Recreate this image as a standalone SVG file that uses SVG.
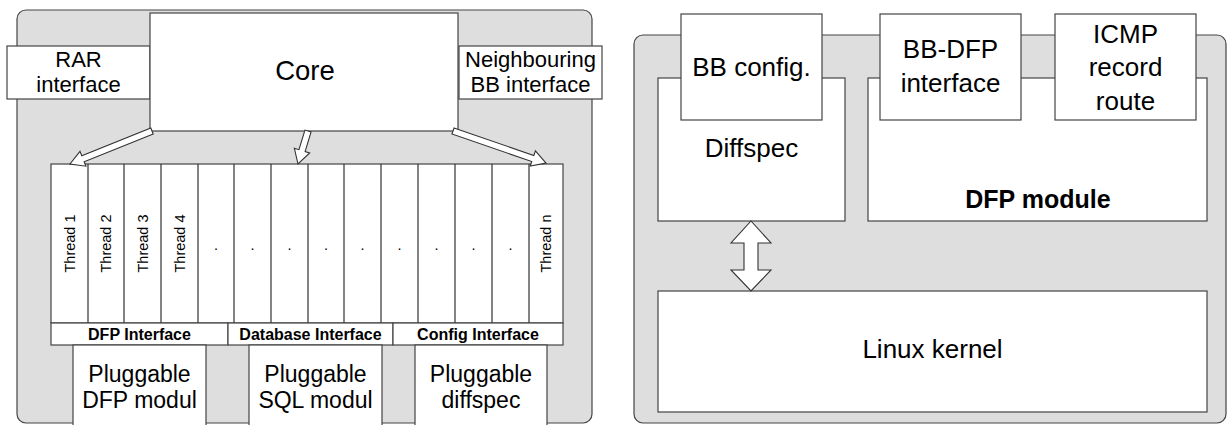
<svg xmlns="http://www.w3.org/2000/svg" width="1231" height="425" viewBox="0 0 1231 425">
<style>
.panel{fill:#dedede;stroke:#444;stroke-width:1.2}
.box{fill:#fff;stroke:#444;stroke-width:1.2}
.col{fill:none;stroke:#333;stroke-width:1.2}
.t{font-family:"Liberation Sans",Arial,sans-serif;fill:#000;text-anchor:middle}
.big{font-size:27.5px}
.mid{font-size:22px}
.plug{font-size:23px}
.rt{font-size:26px}
.th{font-size:14.5px}
.ifc{font-size:16px;font-weight:bold}
.arr{fill:#fff;stroke:#333;stroke-width:1.1;stroke-linejoin:miter}
</style>
<g id="left-panel">
<rect class="panel" x="17" y="10" width="575" height="413" rx="9"/>
</g>
<g id="rar-interface">
<rect class="box" x="7" y="46" width="143" height="53"/>
<text class="t mid" x="78.5" y="67">RAR</text>
<text class="t mid" x="78.5" y="92">interface</text>
</g>
<g id="neighbouring-bb-interface">
<rect class="box" x="459" y="46" width="143" height="53"/>
<text class="t mid" x="530.5" y="67">Neighbouring</text>
<text class="t mid" x="530.5" y="92">BB interface</text>
</g>
<g id="core">
<rect class="box" x="150" y="13" width="308" height="118"/>
<text class="t big" x="305" y="80">Core</text>
</g>
<g id="threads">
<rect class="box" x="51" y="164" width="512" height="159"/>
<path class="col" d="M88 164V323M124 164V323M161 164V323M198 164V323M234 164V323M271 164V323M308 164V323M344 164V323M381 164V323M418 164V323M455 164V323M492 164V323M529 164V323"/>
<text class="t th" transform="translate(74.5,243.5) rotate(-90)">Thread 1</text>
<text class="t th" transform="translate(111,243.5) rotate(-90)">Thread 2</text>
<text class="t th" transform="translate(147.5,243.5) rotate(-90)">Thread 3</text>
<text class="t th" transform="translate(184.5,243.5) rotate(-90)">Thread 4</text>
<text class="t th" transform="translate(551,243.5) rotate(-90)">Thread n</text>
<text class="t th" x="216" y="250">.</text>
<text class="t th" x="252.5" y="250">.</text>
<text class="t th" x="289.5" y="250">.</text>
<text class="t th" x="326" y="250">.</text>
<text class="t th" x="362.5" y="250">.</text>
<text class="t th" x="399.5" y="250">.</text>
<text class="t th" x="436.5" y="250">.</text>
<text class="t th" x="473.5" y="250">.</text>
<text class="t th" x="510.5" y="250">.</text>
</g>
<g id="interfaces">
<rect class="box" x="51" y="323" width="177" height="22"/>
<rect class="box" x="228" y="323" width="165" height="22"/>
<rect class="box" x="393" y="323" width="170" height="22"/>
<text class="t ifc" x="139.5" y="340">DFP Interface</text>
<text class="t ifc" x="310.5" y="340">Database Interface</text>
<text class="t ifc" x="478" y="340">Config Interface</text>
</g>
<g id="pluggable-dfp">
<rect class="box" x="73" y="345" width="133" height="90"/>
<text class="t plug" x="139.5" y="382">Pluggable</text>
<text class="t plug" x="139.5" y="408">DFP modul</text>
</g>
<g id="pluggable-sql">
<rect class="box" x="249" y="345" width="133" height="90"/>
<text class="t plug" x="315.5" y="382">Pluggable</text>
<text class="t plug" x="315.5" y="408">SQL modul</text>
</g>
<g id="pluggable-diffspec">
<rect class="box" x="415" y="345" width="132" height="90"/>
<text class="t plug" x="481" y="382">Pluggable</text>
<text class="t plug" x="481" y="408">diffspec</text>
</g>
<g id="right-panel">
<rect class="panel" x="634" y="35" width="592" height="388" rx="9"/>
</g>
<g id="diffspec">
<rect class="box" x="658" y="78" width="187" height="143"/>
<text class="t rt" x="751.5" y="157">Diffspec</text>
</g>
<g id="bb-config">
<rect class="box" x="681" y="14" width="141" height="106"/>
<text class="t rt" x="751.5" y="76">BB config.</text>
</g>
<g id="dfp-module">
<rect class="box" x="868" y="78" width="339" height="143"/>
<text class="t rt" x="1038" y="208" style="font-size:25px;font-weight:bold">DFP module</text>
</g>
<g id="bb-dfp-interface">
<rect class="box" x="880" y="14" width="141" height="106"/>
<text class="t rt" x="950.5" y="58">BB-DFP</text>
<text class="t rt" x="950.5" y="92">interface</text>
</g>
<g id="icmp-record-route">
<rect class="box" x="1055" y="14" width="141" height="106"/>
<text class="t rt" x="1125.5" y="43">ICMP</text>
<text class="t rt" x="1125.5" y="76">record</text>
<text class="t rt" x="1125.5" y="110">route</text>
</g>
<g id="linux-kernel">
<rect class="box" x="658" y="291" width="549" height="121"/>
<text class="t rt" x="932.5" y="358">Linux kernel</text>
</g>
<g id="connectors">
<polygon class="arr" transform="translate(152,131) rotate(158.1)" points="0,-3.2 74.4,-3.2 74.4,-8 88.4,0 74.4,8 74.4,3.2 0,3.2"/>
<polygon class="arr" transform="translate(308,131) rotate(106.9)" points="0,-3.2 20.5,-3.2 20.5,-8 34.5,0 20.5,8 20.5,3.2 0,3.2"/>
<polygon class="arr" transform="translate(453,131) rotate(19)" points="0,-3.2 84.4,-3.2 84.4,-8 98.4,0 84.4,8 84.4,3.2 0,3.2"/>
<polygon class="arr" points="751,221 771,243 758,243 758,270 771,270 751,291 731,270 744,270 744,243 731,243"/>
</g>
</svg>
